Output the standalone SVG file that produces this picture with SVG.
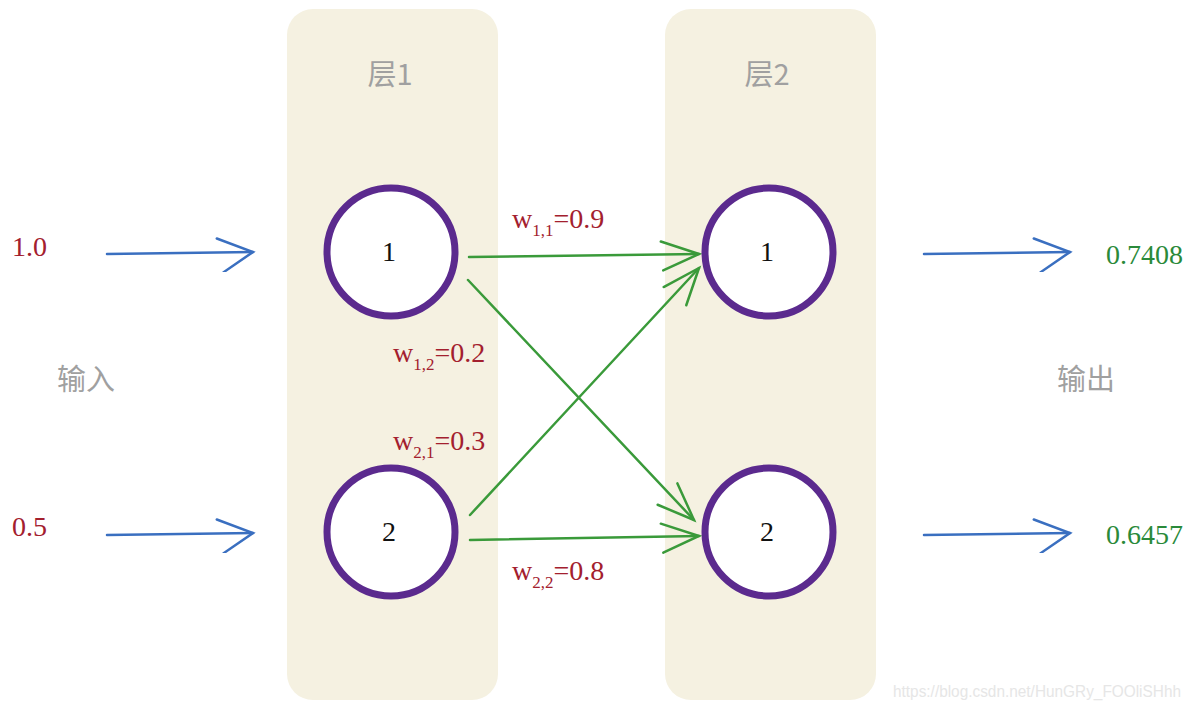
<svg xmlns="http://www.w3.org/2000/svg" width="1200" height="709" viewBox="0 0 1200 709">
<style>
.panel{fill:#f5f1e1}
.node{fill:#fff;stroke:#5b2a8e;stroke-width:7}
.num{font-family:"Liberation Serif",serif;font-size:28px;fill:#111;text-anchor:middle}
.red{font-family:"Liberation Serif",serif;font-size:28px;fill:#a3202e}
.sub{font-size:17px}
.grn{font-family:"Liberation Serif",serif;font-size:28px;fill:#2a8a3a}
.gray{font-family:"Noto Sans CJK SC",sans-serif;font-size:29px;fill:#a0a0a0}
.blue{stroke:#3a6fc0;stroke-width:2.5;fill:none;stroke-linecap:round}
.green{stroke:#3a9a3a;stroke-width:2.5;fill:none;stroke-linecap:round}
</style>
<defs>
<marker id="ab" viewBox="-40 -20 44 40" refX="0" refY="0" markerWidth="44" markerHeight="40" markerUnits="userSpaceOnUse" orient="auto">
<path d="M-36,-14 L0,0 L-30,20" stroke="#3a6fc0" stroke-width="2.5" fill="none" stroke-linecap="round"/>
</marker>
<marker id="ag" viewBox="-40 -20 44 40" refX="0" refY="0" markerWidth="44" markerHeight="40" markerUnits="userSpaceOnUse" orient="auto">
<path d="M-38,-13 L0,0 L-36,16" stroke="#3a9a3a" stroke-width="2.5" fill="none" stroke-linecap="round"/>
</marker>
</defs>
<rect width="1200" height="709" fill="#fff"/>
<g id="layer1"><rect class="panel" x="287" y="9" width="211" height="691" rx="26"/><text class="gray" x="390" y="85" text-anchor="middle">层1</text></g>
<g id="layer2"><rect class="panel" x="665" y="9" width="211" height="691" rx="26"/><text class="gray" x="767" y="85" text-anchor="middle">层2</text></g>
<g id="connectors">
<path class="blue" d="M107,254 L253,252" marker-end="url(#ab)"/>
<path class="blue" d="M107,535 L253,533" marker-end="url(#ab)"/>
<path class="blue" d="M924,254 L1070,252" marker-end="url(#ab)"/>
<path class="blue" d="M924,535 L1070,533" marker-end="url(#ab)"/>
<path class="green" d="M469,257 L699,254" marker-end="url(#ag)"/>
<path class="green" d="M468,280 L694,520" marker-end="url(#ag)"/>
<path class="green" d="M470,515 L699,268" marker-end="url(#ag)"/>
<path class="green" d="M470,540 L699,536" marker-end="url(#ag)"/>
</g>
<g id="n11"><circle class="node" cx="391" cy="252" r="64"/><text class="num" x="389" y="261">1</text></g>
<g id="n12"><circle class="node" cx="391" cy="532" r="64"/><text class="num" x="389" y="541">2</text></g>
<g id="n21"><circle class="node" cx="769" cy="252" r="64"/><text class="num" x="767" y="261">1</text></g>
<g id="n22"><circle class="node" cx="769" cy="532" r="64"/><text class="num" x="767" y="541">2</text></g>
<g id="inputs">
<text class="red" x="12" y="256">1.0</text>
<text class="red" x="12" y="536">0.5</text>
<text class="gray" x="57" y="390">输入</text>
</g>
<g id="outputs">
<text class="grn" x="1106" y="264">0.7408</text>
<text class="grn" x="1106" y="544">0.6457</text>
<text class="gray" x="1057" y="390">输出</text>
</g>
<g id="weights">
<text class="red" x="512" y="228">w<tspan class="sub" dy="8">1,1</tspan><tspan dy="-8">=0.9</tspan></text>
<text class="red" x="393" y="362">w<tspan class="sub" dy="8">1,2</tspan><tspan dy="-8">=0.2</tspan></text>
<text class="red" x="393" y="450">w<tspan class="sub" dy="8">2,1</tspan><tspan dy="-8">=0.3</tspan></text>
<text class="red" x="512" y="580">w<tspan class="sub" dy="8">2,2</tspan><tspan dy="-8">=0.8</tspan></text>
</g>
<text x="893" y="697" font-family="Liberation Sans,sans-serif" font-size="16" fill="#e6e6e6" textLength="288" lengthAdjust="spacingAndGlyphs">https://blog.csdn.net/HunGRy_FOOliSHhh</text>
</svg>
